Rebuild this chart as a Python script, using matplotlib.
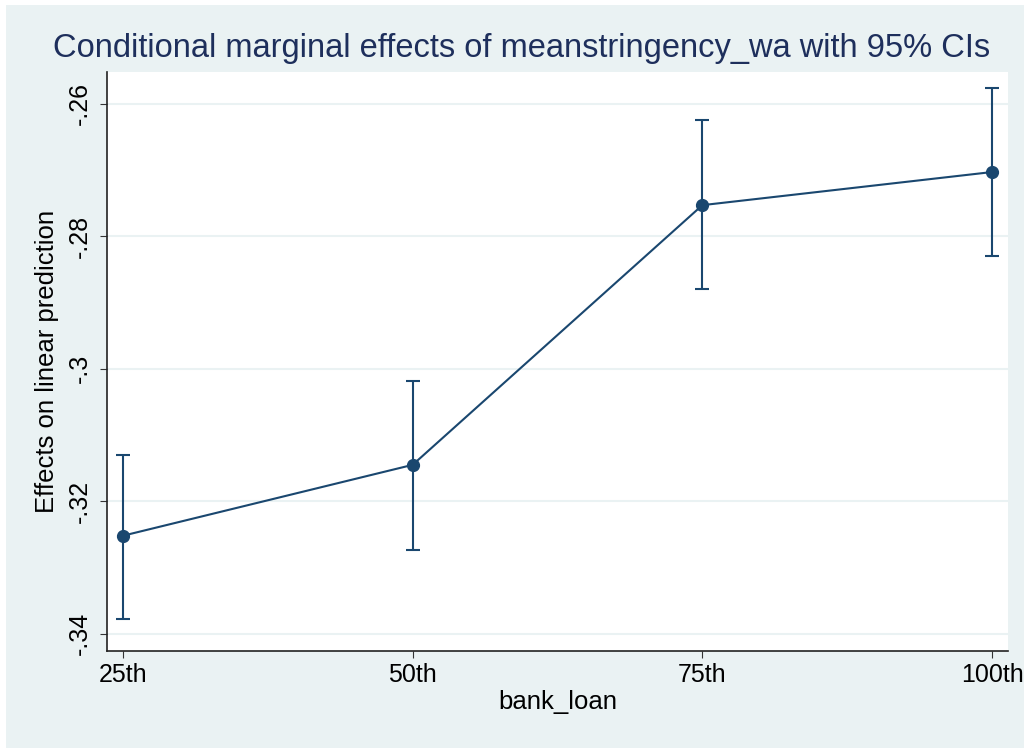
import matplotlib.pyplot as plt
from matplotlib.patches import Rectangle

categories = ["25th", "50th", "75th", "100th"]
effects = [-0.3252, -0.3145, -0.2753, -0.2703]
ci_low = [-0.3377, -0.3274, -0.2880, -0.2830]
ci_high = [-0.3130, -0.3018, -0.2624, -0.2576]
yticks = [-0.34, -0.32, -0.30, -0.28, -0.26]
ytick_labels = ["-.34", "-.32", "-.3", "-.28", "-.26"]

NAVY = "#1a476f"
TITLE = "#1e2f5c"
BG = "#eaf2f3"

plt.rcParams["font.family"] = "Liberation Sans"
fig = plt.figure(figsize=(10.24, 7.48), dpi=100, facecolor="white")
fig.patches.append(Rectangle((6 / 1024, 0), 1, 1 - 5 / 748, transform=fig.transFigure,
                             facecolor=BG, edgecolor="none", zorder=-5))
ax = fig.add_axes([107 / 1024, 1 - 651 / 748, 901 / 1024, 579 / 748])
ax.set_zorder(1)
ax.set_facecolor("white")

x = list(range(len(categories)))
ax.plot(x, effects, color=NAVY, linewidth=1.5, marker="o", markersize=8.5, zorder=3)
yerr = [[e - l for e, l in zip(effects, ci_low)], [h - e for e, h in zip(effects, ci_high)]]
ax.errorbar(x, effects, yerr=yerr, fmt="none", ecolor=NAVY, elinewidth=1.5,
            capsize=5, capthick=1.5, zorder=2)

ax.set_xlim(-0.055, 3.055)
ax.set_ylim(-0.3426, -0.2552)
ax.set_xticks(x)
ax.set_xticklabels(categories, fontsize=18)
ax.set_yticks(yticks)
ax.set_yticklabels(ytick_labels, fontsize=18, rotation=90, va="center")
ax.grid(axis="y", color=BG, linewidth=1.5)
ax.set_axisbelow(True)
for side in ["top", "right"]:
    ax.spines[side].set_visible(False)
for side in ["left", "bottom"]:
    ax.spines[side].set_color("#222222")
    ax.spines[side].set_linewidth(1.2)
ax.tick_params(length=5, color="#333333")
ax.tick_params(axis="y", pad=6)

ax.set_xlabel("bank_loan", fontsize=18.5, labelpad=2)
ax.set_ylabel("Effects on linear prediction", fontsize=18.5, labelpad=6)
fig.text(0.509, 0.935, "Conditional marginal effects of meanstringency_wa with 95% CIs",
         ha="center", va="center", fontsize=23.5, color=TITLE)

fig.savefig("out.png", dpi=100, facecolor=fig.get_facecolor())
